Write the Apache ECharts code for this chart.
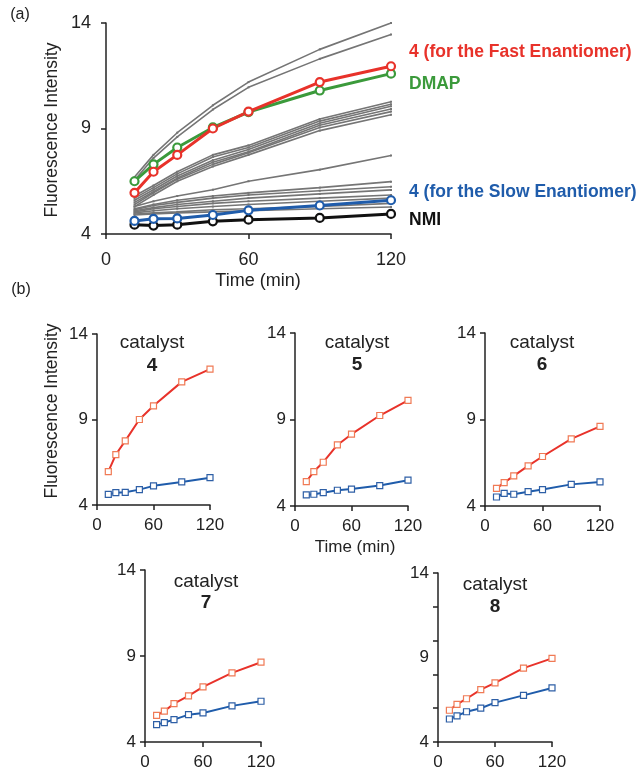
<!DOCTYPE html>
<html>
<head>
<meta charset="utf-8">
<script src="https://cdn.jsdelivr.net/npm/echarts@6/dist/echarts.min.js"></script>
<style>
  html, body { margin: 0; background: #fff; }
  #chart { width: 644px; height: 771px; }
</style>
</head>
<body>
<div id="chart"></div>
<script>
// time points (min)
const times = [12, 20, 30, 45, 60, 90, 120];
const xTicks = [0, 60, 120];
const yTicks = [4, 9, 14];
const yTicks8 = [4, 6, 8, 10, 12, 14];

// panel (a)
const dmap = [6.5, 7.3, 8.1, 9.05, 9.78, 10.8, 11.6];
const nmi = [4.44, 4.4, 4.44, 4.6, 4.68, 4.76, 4.95];
const grayLines = [
  [6.7, 7.75, 8.8, 10.1, 11.2, 12.75, 14.0],
  [6.55, 7.6, 8.6, 9.9, 10.95, 12.3, 13.45],
  [5.8, 6.3, 6.95, 7.75, 8.2, 9.45, 10.27],
  [5.7, 6.2, 6.85, 7.65, 8.1, 9.35, 10.15],
  [5.6, 6.1, 6.75, 7.5, 8.0, 9.25, 10.05],
  [5.5, 6.0, 6.65, 7.4, 7.9, 9.15, 9.92],
  [5.4, 5.95, 6.6, 7.3, 7.85, 9.05, 9.8],
  [5.3, 5.85, 6.5, 7.2, 7.75, 8.9, 9.65],
  [5.3, 5.55, 5.8, 6.1, 6.5, 7.05, 7.72],
  [5.2, 5.4, 5.6, 5.8, 5.95, 6.2, 6.48],
  [5.15, 5.35, 5.5, 5.7, 5.85, 6.05, 6.24],
  [5.1, 5.25, 5.4, 5.55, 5.7, 5.9, 6.09],
  [5.05, 5.2, 5.3, 5.45, 5.55, 5.7, 5.85],
  [5.0, 5.1, 5.2, 5.3, 5.4, 5.55, 5.7],
  [4.95, 5.0, 5.05, 5.15, 5.2, 5.3, 5.45],
  [4.9, 4.95, 5.0, 5.05, 5.1, 5.2, 5.28]
];

// panel (b): fast / slow enantiomer per catalyst
const catalysts = ['4', '5', '6', '7', '8'];
const fast4 = [5.95, 6.95, 7.75, 9.0, 9.8, 11.2, 11.95];
const slow4 = [4.62, 4.72, 4.74, 4.9, 5.12, 5.35, 5.6];
const fast5 = [5.41, 5.99, 6.53, 7.53, 8.15, 9.23, 10.1];
const slow5 = [4.64, 4.68, 4.77, 4.91, 4.98, 5.18, 5.49];
const fast6 = [5.02, 5.35, 5.74, 6.32, 6.86, 7.88, 8.6];
const slow6 = [4.52, 4.73, 4.68, 4.83, 4.95, 5.25, 5.39];
const fast7 = [5.55, 5.79, 6.23, 6.68, 7.2, 8.02, 8.64];
const slow7 = [5.01, 5.13, 5.3, 5.59, 5.69, 6.1, 6.37];
const fast8 = [5.88, 6.23, 6.56, 7.1, 7.5, 8.37, 8.95];
const slow8 = [5.36, 5.55, 5.79, 6.0, 6.33, 6.76, 7.2];
const fastB = [fast4, fast5, fast6, fast7, fast8];
const slowB = [slow4, slow5, slow6, slow7, slow8];

const font = '"Liberation Sans", Arial, Helvetica, sans-serif';
const ink = '#222';
const red = '#e8322a';
const green = '#3b9a3b';
const blue = '#1f5cab';

const pts = vals => vals.map((v, i) => [times[i], v]);

// grid boxes: panel (a) then catalysts 4..8
const grids = [
  { left: 106, top: 23, width: 285, height: 211 },
  { left: 97, top: 334, width: 113, height: 171 },
  { left: 295, top: 333, width: 113, height: 173 },
  { left: 485, top: 333, width: 115, height: 173 },
  { left: 145, top: 570, width: 116, height: 172 },
  { left: 438, top: 573, width: 114, height: 172 }
];

const axisLine = { lineStyle: { color: ink, width: 1.5 } };
const axisLabel = { color: ink, fontSize: 17, fontFamily: font };

const xAxes = grids.map((g, i) => ({
  gridIndex: i,
  type: 'value',
  min: 0,
  max: 120,
  axisLine,
  axisTick: { length: 5, lineStyle: { color: ink, width: 1.5 }, customValues: xTicks },
  axisLabel: { ...axisLabel, fontSize: i === 0 ? 18 : 17, margin: i === 0 ? 17 : 12, customValues: xTicks },
  splitLine: { show: false }
}));
const yAxes = grids.map((g, i) => ({
  gridIndex: i,
  type: 'value',
  min: 4,
  max: 14,
  axisLine,
  axisTick: { length: 5, lineStyle: { color: ink, width: 1.5 }, customValues: i === 5 ? yTicks8 : yTicks },
  axisLabel: { ...axisLabel, fontSize: i === 0 ? 18 : 17, margin: i === 0 ? 15 : 9, customValues: yTicks },
  splitLine: { show: false }
}));

const series = [];
grayLines.forEach(vals => series.push({
  type: 'line',
  xAxisIndex: 0,
  yAxisIndex: 0,
  data: pts(vals),
  symbol: 'rect',
  symbolSize: 2,
  lineStyle: { color: '#757575', width: 1.6 },
  itemStyle: { color: '#757575' },
  silent: true
}));
const boldLine = (vals, color) => ({
  type: 'line',
  xAxisIndex: 0,
  yAxisIndex: 0,
  data: pts(vals),
  symbol: 'circle',
  symbolSize: 8,
  lineStyle: { color, width: 3 },
  itemStyle: { color: '#fff', borderColor: color, borderWidth: 2.2 }
});
series.push(boldLine(nmi, '#111'));
series.push(boldLine(slow4, blue));
series.push(boldLine(dmap, green));
series.push(boldLine(fast4, red));

const smallLine = (vals, color, border, i) => ({
  type: 'line',
  xAxisIndex: i,
  yAxisIndex: i,
  data: pts(vals),
  symbol: 'rect',
  symbolSize: 6,
  lineStyle: { color, width: 2 },
  itemStyle: { color: '#fff', borderColor: border, borderWidth: 1.2 }
});
catalysts.forEach((c, k) => {
  series.push(smallLine(slowB[k], blue, '#2e5fa6', k + 1));
  series.push(smallLine(fastB[k], red, '#f07a55', k + 1));
});

const txt = (x, y, text, extra) => ({
  type: 'text',
  x, y,
  style: {
    text,
    fill: ink,
    font: '17px ' + font,
    textAlign: 'center',
    textVerticalAlign: 'middle',
    ...extra
  }
});
const vtxt = (x, y, text) => ({ ...txt(x, y, text, { font: '17.5px ' + font }), rotation: Math.PI / 2 });

const titlePos = [[152, 343, 366], [357, 343, 365], [542, 343, 365], [206, 582, 603], [495, 585, 607]];
const graphic = [
  txt(20, 15, '(a)', { font: '16px ' + font }),
  txt(21, 290, '(b)', { font: '16px ' + font }),
  vtxt(52, 130, 'Fluorescence Intensity'),
  vtxt(52, 411, 'Fluorescence Intensity'),
  txt(258, 281, 'Time (min)', { font: '18px ' + font }),
  txt(355, 547, 'Time (min)'),
  txt(409, 52, '4 (for the Fast Enantiomer)', { fill: red, font: 'bold 17.5px ' + font, textAlign: 'left' }),
  txt(409, 84, 'DMAP', { fill: green, font: 'bold 17.5px ' + font, textAlign: 'left' }),
  txt(409, 192, '4 (for the Slow Enantiomer)', { fill: blue, font: 'bold 17.5px ' + font, textAlign: 'left' }),
  txt(409, 220, 'NMI', { fill: '#111', font: 'bold 17.5px ' + font, textAlign: 'left' })
];
catalysts.forEach((c, k) => {
  const [x, y1, y2] = titlePos[k];
  graphic.push(txt(x, y1, 'catalyst', { font: '19px ' + font }));
  graphic.push(txt(x, y2, c, { font: 'bold 19px ' + font }));
});

const chart = echarts.init(document.getElementById('chart'));
chart.setOption({
  animation: false,
  grid: grids,
  xAxis: xAxes,
  yAxis: yAxes,
  series,
  graphic
});
</script>
</body>
</html>
